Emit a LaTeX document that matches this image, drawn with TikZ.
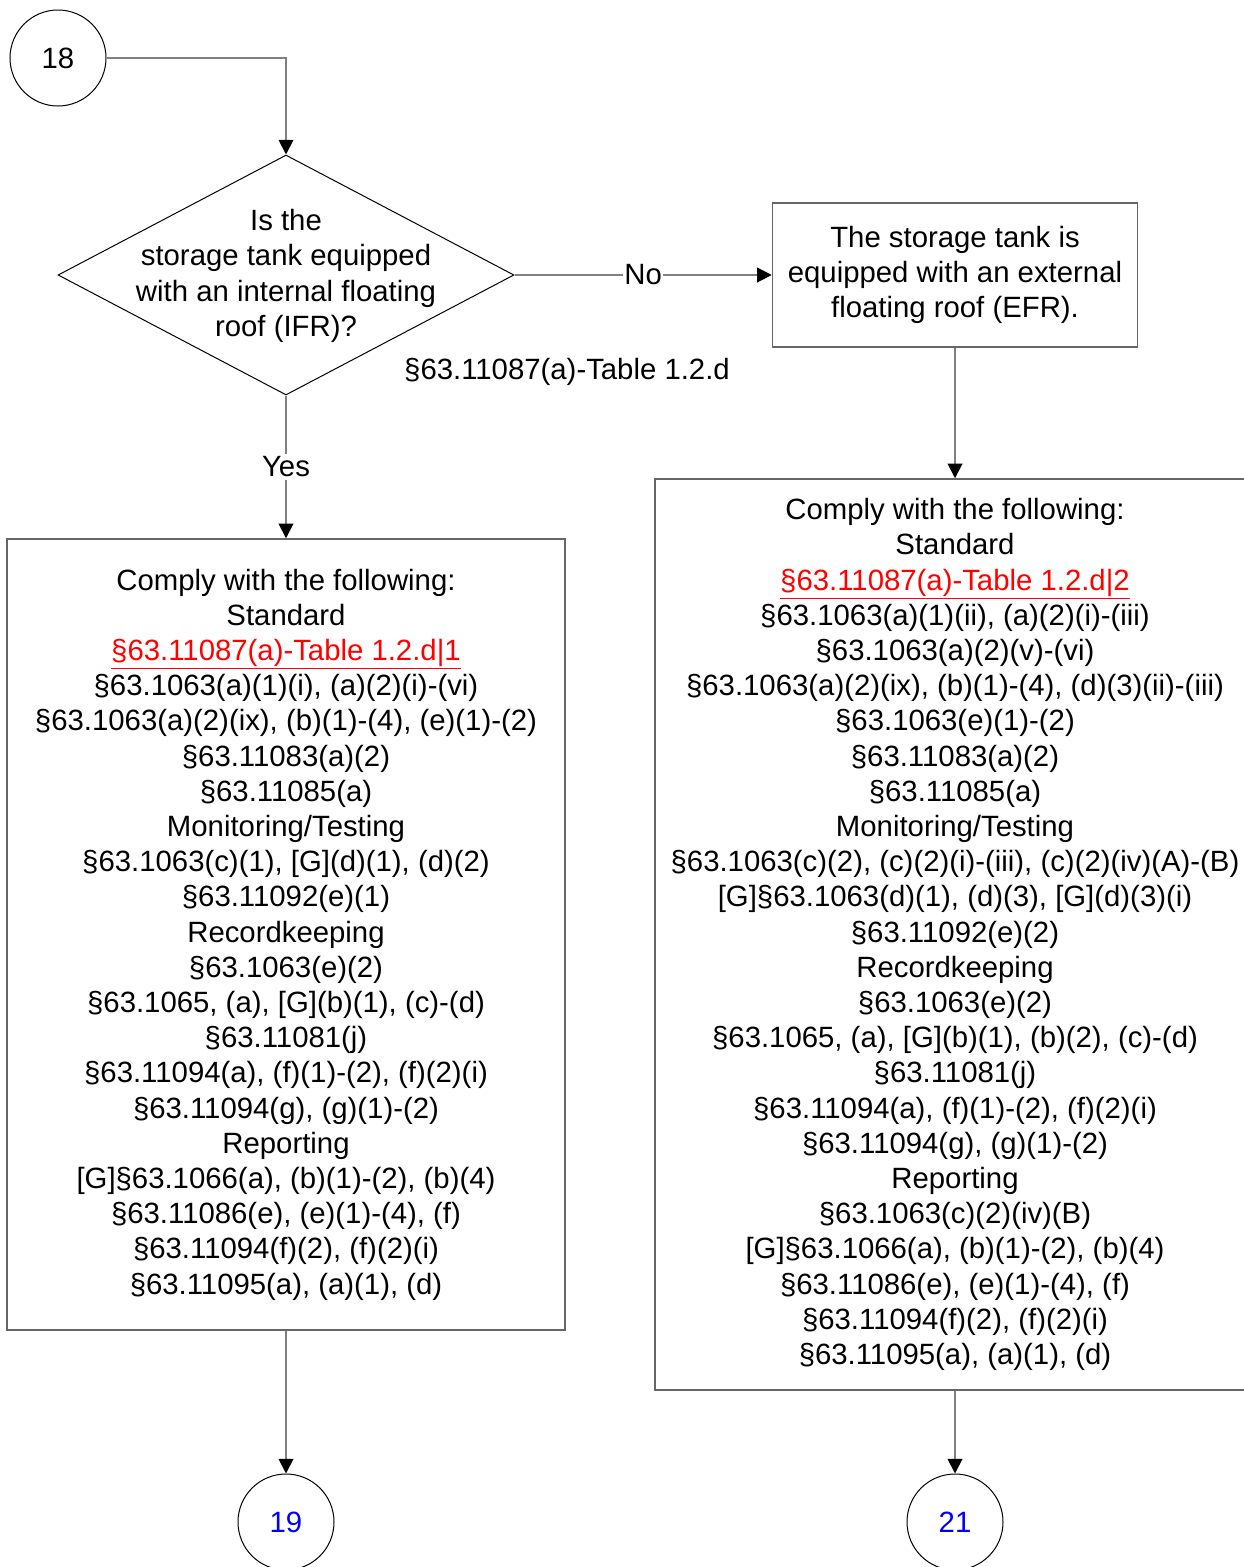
\documentclass[tikz,border=0pt]{standalone}
\usepackage{fontspec}
\setmainfont{Liberation Sans}
\usetikzlibrary{shapes.geometric, arrows.meta, positioning}
\tikzstyle{connector} = [circle, draw=black, line width=.75pt, minimum size=72pt, inner sep=0pt]
\tikzstyle{decision} = [diamond, draw=black, line width=.75pt, minimum width=342pt, minimum height=180pt, inner sep=0pt]
\tikzstyle{process} = [rectangle, draw=black!60, line width=1.1pt, align=center]
\tikzstyle{arrow} = [line width=1.4pt, draw=black!50, -{Triangle[width=11pt,length=11pt,black]}]
\newcommand{\reflink}[1]{\textcolor{red}{\underline{#1}}}

\begin{document}
\begin{tikzpicture}[x=0.75pt, y=-0.75pt, font=\fontsize{22}{26.4}\selectfont]
\useasboundingbox (0,0) rectangle (1244,1567);
\clip (0,0) rectangle (1244,1567);

% off-page connector in
\node[connector] (c18) at (58,58) {18};

% decision
\node[decision] (ifr) at (286,275) {};
\node[align=center] (ifrtext) at (286,276) {Is the\\storage tank equipped\\with an internal floating\\roof (IFR)?};
\node (ifrref) at (567,372) {§63.11087(a)-Table 1.2.d};

% external floating roof
\node[process, minimum width=273.75pt, minimum height=108pt] (efr) at (955,275) {The storage tank is\\equipped with an external\\floating roof (EFR).};

% requirements for IFR
\node[process, minimum width=418.5pt, minimum height=593.25pt] (ifrbox) at (286,934.5) {Comply with the following:\\
Standard\\
\reflink{§63.11087(a)-Table 1.2.d|1}\\
§63.1063(a)(1)(i), (a)(2)(i)-(vi)\\
§63.1063(a)(2)(ix), (b)(1)-(4), (e)(1)-(2)\\
§63.11083(a)(2)\\
§63.11085(a)\\
Monitoring/Testing\\
§63.1063(c)(1), [G](d)(1), (d)(2)\\
§63.11092(e)(1)\\
Recordkeeping\\
§63.1063(e)(2)\\
§63.1065, (a), [G](b)(1), (c)-(d)\\
§63.11081(j)\\
§63.11094(a), (f)(1)-(2), (f)(2)(i)\\
§63.11094(g), (g)(1)-(2)\\
Reporting\\
{[G]§63.1066(a), (b)(1)-(2), (b)(4)}\\
§63.11086(e), (e)(1)-(4), (f)\\
§63.11094(f)(2), (f)(2)(i)\\
§63.11095(a), (a)(1), (d)};

% requirements for EFR
\node[process, minimum width=450pt, minimum height=683.25pt] (efrbox) at (955,934.5) {Comply with the following:\\
Standard\\
\reflink{§63.11087(a)-Table 1.2.d|2}\\
§63.1063(a)(1)(ii), (a)(2)(i)-(iii)\\
§63.1063(a)(2)(v)-(vi)\\
§63.1063(a)(2)(ix), (b)(1)-(4), (d)(3)(ii)-(iii)\\
§63.1063(e)(1)-(2)\\
§63.11083(a)(2)\\
§63.11085(a)\\
Monitoring/Testing\\
§63.1063(c)(2), (c)(2)(i)-(iii), (c)(2)(iv)(A)-(B)\\
{[G]§63.1063(d)(1), (d)(3), [G](d)(3)(i)}\\
§63.11092(e)(2)\\
Recordkeeping\\
§63.1063(e)(2)\\
§63.1065, (a), [G](b)(1), (b)(2), (c)-(d)\\
§63.11081(j)\\
§63.11094(a), (f)(1)-(2), (f)(2)(i)\\
§63.11094(g), (g)(1)-(2)\\
Reporting\\
§63.1063(c)(2)(iv)(B)\\
{[G]§63.1066(a), (b)(1)-(2), (b)(4)}\\
§63.11086(e), (e)(1)-(4), (f)\\
§63.11094(f)(2), (f)(2)(i)\\
§63.11095(a), (a)(1), (d)};

% off-page connectors out
\node[connector, text=blue] (c19) at (286,1522) {19};
\node[connector, text=blue] (c21) at (955,1522) {21};

% arrows
\draw[arrow] (c18) -| (ifr.north);
\draw[arrow] (ifr.east) -- node[fill=white, inner sep=1pt] (nolabel) {No} (efr.west);
\draw[arrow] (ifr.south) -- node[fill=white, inner sep=2pt] (yeslabel) {Yes} (ifrbox.north);
\draw[arrow] (efr.south) -- (efrbox.north);
\draw[arrow] (ifrbox.south) -- (c19.north);
\draw[arrow] (efrbox.south) -- (c21.north);
\end{tikzpicture}
\end{document}
